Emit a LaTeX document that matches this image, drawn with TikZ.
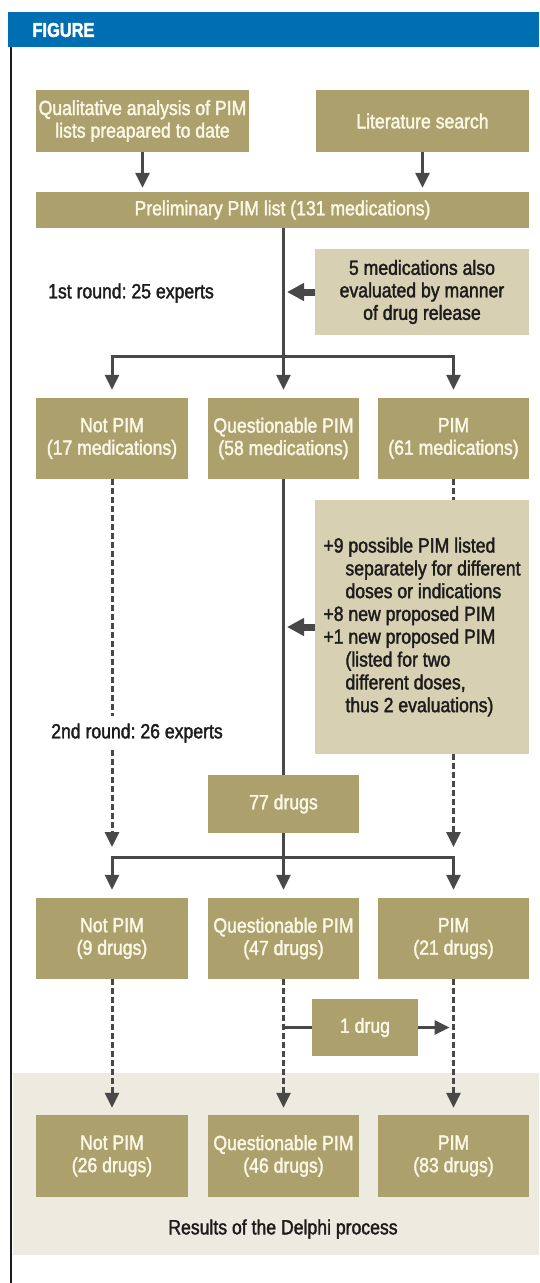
\documentclass[tikz,border=0pt]{standalone}
\usepackage{fontspec}
\setmainfont{Liberation Sans}[FakeStretch=0.86, FakeBold=1.8, BoldFont={Liberation Sans Bold}, BoldFeatures={FakeStretch=0.82, FakeBold=2}]
\usetikzlibrary{arrows.meta,calc}
\definecolor{olive}{RGB}{172,160,108}
\definecolor{lightbox}{RGB}{216,208,178}
\definecolor{bandcol}{RGB}{237,234,224}
\definecolor{creamtxt}{RGB}{252,248,232}
\definecolor{arrgray}{RGB}{72,72,72}
\definecolor{headblue}{RGB}{0,110,178}
\definecolor{darktxt}{RGB}{28,28,28}
\newcommand\figfs{\fontsize{20.5}{22.5}\selectfont\frenchspacing}
\begin{document}
\begin{tikzpicture}[x=1pt,y=-1pt,
  obox/.style={rectangle, fill=olive, text=creamtxt, align=center, inner sep=0pt, font=\figfs},
  lbox/.style={rectangle, fill=lightbox, text=darktxt, align=center, inner sep=0pt, font=\figfs},
  lbl/.style={text=darktxt, inner sep=0pt, font=\figfs},
  ln/.style={line width=3pt, draw=arrgray},
  arr/.style={line width=3pt, draw=arrgray, -{Triangle[width=14pt,length=15pt]}},
  darr/.style={line width=3pt, draw=arrgray, dash pattern=on 6pt off 3pt, -{Triangle[width=14pt,length=15pt]}},
  dln/.style={line width=3pt, draw=arrgray, dash pattern=on 6pt off 3pt},
  bigarr/.style={line width=7pt, draw=arrgray, -{Triangle[width=17pt,length=17pt]}}
]
\useasboundingbox (0,0) rectangle (539,1283);
% header and frame
\fill[headblue] (8,12) rectangle (539,47);
\node[text=white, font=\fontsize{20}{22}\selectfont\bfseries, inner sep=0pt] (fig) at (63.5,30) {FIGURE};
\draw[line width=2.5pt, draw=darktxt] (11,47) -- (11,1283);
% results band
\fill[bandcol] (12.5,1073) rectangle (539,1255);

% nodes
\node[obox, minimum width=213pt, minimum height=62pt] (qual) at (142.5,121) {Qualitative analysis of PIM\\lists preapared to date};
\node[obox, minimum width=213pt, minimum height=62pt] (lit) at (422.5,121) {Literature search};
\node[obox, minimum width=493pt, minimum height=36pt] (prelim) at (282.5,210) {Preliminary PIM list (131 medications)};
\node[lbox, minimum width=214pt, minimum height=86pt] (five) at (422,292) {5 medications also\\evaluated by manner\\of drug release};
\node[lbl] (round1) at (131,293) {1st round: 25 experts};

\node[obox, minimum width=152pt, minimum height=81pt] (np1) at (112,438.5) {Not PIM\\(17 medications)};
\node[obox, minimum width=151pt, minimum height=81pt] (qp1) at (283.5,438.5) {Questionable PIM\\(58 medications)};
\node[obox, minimum width=151pt, minimum height=81pt] (p1) at (453.5,438.5) {PIM\\(61 medications)};

\node[lbl, fill=white, inner ysep=7pt, inner xsep=2pt] (round2) at (137,733) {2nd round: 26 experts};

\node[lbox, minimum width=214pt, minimum height=254pt, align=left, font=\fontsize{20.5}{22.8}\selectfont] (big) at (422,627)
  {+9 possible PIM listed\\
   \hspace*{22pt}separately for different\\
   \hspace*{22pt}doses or indications\\
   +8 new proposed PIM\\
   +1 new proposed PIM\\
   \hspace*{22pt}(listed for two\\
   \hspace*{22pt}different doses,\\
   \hspace*{22pt}thus 2 evaluations)};

\node[obox, minimum width=151pt, minimum height=58pt] (d77) at (283.5,804) {77 drugs};

\node[obox, minimum width=152pt, minimum height=81pt] (np2) at (112,938.5) {Not PIM\\(9 drugs)};
\node[obox, minimum width=151pt, minimum height=81pt] (qp2) at (283.5,938.5) {Questionable PIM\\(47 drugs)};
\node[obox, minimum width=151pt, minimum height=81pt] (p2) at (453.5,938.5) {PIM\\(21 drugs)};

\node[obox, minimum width=106pt, minimum height=57pt] (d1) at (365,1027.5) {1 drug};

\node[obox, minimum width=152pt, minimum height=82pt] (np3) at (112,1156) {Not PIM\\(26 drugs)};
\node[obox, minimum width=151pt, minimum height=82pt] (qp3) at (283.5,1156) {Questionable PIM\\(46 drugs)};
\node[obox, minimum width=151pt, minimum height=82pt] (p3) at (453.5,1156) {PIM\\(83 drugs)};
\node[lbl] (results) at (283,1229) {Results of the Delphi process};

% coordinates
\coordinate (b1) at (283.5,356);
\coordinate (b2) at (283.5,857);

% connectors top
\draw[arr] (qual.south) -- ([yshift=4pt]qual.south |- prelim.north);
\draw[arr] (lit.south) -- ([yshift=4pt]lit.south |- prelim.north);
\draw[ln] (prelim.south -| b1) -- (b1);
\draw[bigarr] (five.west) -- ($(five.west -| b1)+(3.5,0)$);
\draw[arr] (b1) -| ([yshift=8pt]np1.north);
\draw[arr] (b1) -| ([yshift=8pt]p1.north);
\draw[arr] (b1) -- ([yshift=8pt]qp1.north);

% round 2
\draw[ln] (qp1.south) -- (d77.north);
\draw[bigarr] (big.west) -- ($(big.west -| qp1.south)+(3.5,0)$);
\draw[dln] (np1.south) -- (np1.south |- round2.north);
\draw[darr] (np1.south |- round2.south) -- ($(np1.south |- b2)+(0,-10)$);
\draw[dln] (p1.south) -- (p1.south |- big.north);
\draw[darr] (p1.south |- big.south) -- ($(p1.south |- b2)+(0,-10)$);
\draw[ln] (d77.south) -- (b2);
\draw[arr] (b2) -| ([yshift=8pt]np2.north);
\draw[arr] (b2) -| ([yshift=8pt]p2.north);
\draw[arr] (b2) -- ([yshift=8pt]qp2.north);

% to results
\draw[darr] (np2.south) -- ([yshift=7pt]np3.north);
\draw[darr] (qp2.south) -- ([yshift=7pt]qp3.north);
\draw[darr] (p2.south) -- ([yshift=7pt]p3.north);
\draw[ln] ($(qp2.south |- d1.west)+(1.5,0)$) -- (d1.west);
\draw[arr] (d1.east) -- ($(p2.south |- d1.east)+(-4,0)$);
\end{tikzpicture}
\end{document}
